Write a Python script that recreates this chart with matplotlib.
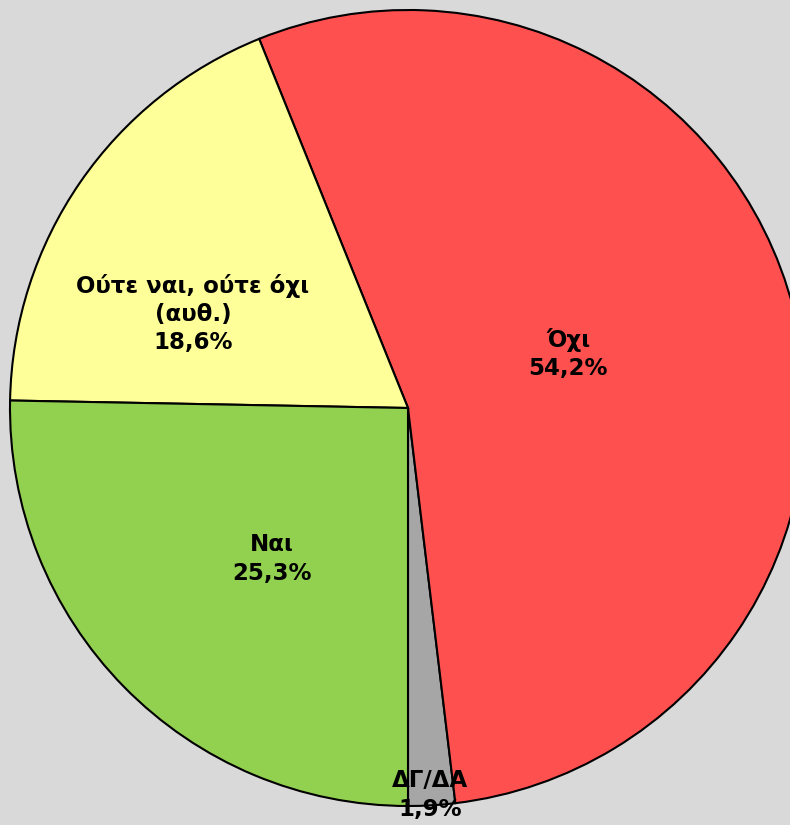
import matplotlib
matplotlib.use("Agg")
import matplotlib.pyplot as plt

# Δεδομένα
labels = ["ΔΓ/ΔΑ", "Όχι", "Ούτε ναι, ούτε όχι\n(αυθ.)", "Ναι"]
values = [1.9, 54.2, 18.6, 25.3]
colors = ["#A6A6A6", "#FF5050", "#FFFF99", "#92D050"]

# Θέσεις ετικετών (σε pixel εικόνας)
label_pos = [(430, 795), (568, 354), (193, 314), (272, 559)]

W, H = 790, 825
fig = plt.figure(figsize=(W / 100, H / 100), dpi=100)
fig.patch.set_facecolor("#D9D9D9")
ax = fig.add_axes([0, 0, 1, 1])

cx, cy, r = 408, H - 408, 398
ax.pie(values, colors=colors, startangle=-90, counterclock=True,
       center=(cx, cy), radius=r, frame=True,
       wedgeprops=dict(edgecolor="black", linewidth=1.5))
ax.set_xlim(0, W)
ax.set_ylim(0, H)
ax.set_aspect("equal")
ax.axis("off")

for lab, v, (x, y) in zip(labels, values, label_pos):
    txt = lab + "\n" + f"{v:.1f}".replace(".", ",") + "%"
    ax.text(x, H - y, txt, ha="center", va="center", fontsize=16.5,
            fontweight="bold", family="DejaVu Sans", linespacing=1.3)

plt.savefig("out.png", dpi=100, facecolor=fig.get_facecolor())
